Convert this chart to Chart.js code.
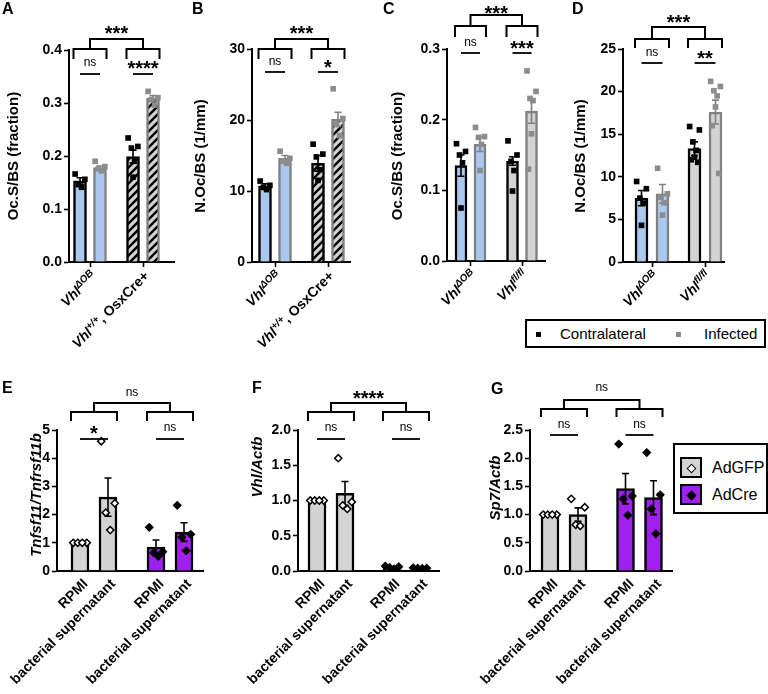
<!DOCTYPE html>
<html>
<head>
<meta charset="utf-8">
<script src="https://cdn.jsdelivr.net/npm/chart.js@4.4.1/dist/chart.umd.min.js"></script>
<style>
  html, body { margin: 0; padding: 0; background: #fff; }
  body { width: 768px; height: 694px; position: relative; overflow: hidden; font-family: 'Liberation Sans', Arial, sans-serif; }
  canvas { position: absolute; }
  .legend { position: absolute; border: 2px solid #000; background: #fff; box-sizing: border-box; }
  .legend span { position: absolute; white-space: nowrap; color: #000; }
  .xlab { position: absolute; white-space: nowrap; font-weight: bold; font-size: 14px; line-height: 16px; color: #000;
          transform-origin: 100% 50%; transform: rotate(-45deg); }
  .xlab i { font-style: italic; }
  .xlab .sup { font-style: italic; font-size: 10px; position: relative; top: -5px; }
</style>
</head>
<body>
<canvas id="chartA"></canvas>
<canvas id="chartB"></canvas>
<canvas id="chartC"></canvas>
<canvas id="chartD"></canvas>
<canvas id="chartE"></canvas>
<canvas id="chartF"></canvas>
<canvas id="chartG"></canvas>
<div id="legendTop" class="legend" style="left:525px;top:319px;width:241px;height:29px"></div>
<div id="legendBottom" class="legend" style="left:673px;top:443px;width:95px;height:71px"></div>
<script>
const FONT = "'Liberation Sans', Arial, sans-serif";
const BLUE = '#a9c7ef';
const GREY = '#d3d3d3';
const PURPLE = '#a020f0';
const INF_EDGE = '#808080';
const INF_PT = '#8c8c8c';

// --- Labels ---
const topSeriesNames = ['Contralateral', 'Infected'];
const bottomSeriesNames = ['AdGFP', 'AdCre'];
const abGroupLabels = ['Vhl^{ΔOB}', 'Vhl^{+/+}, OsxCre+'];
const cdGroupLabels = ['Vhl^{ΔOB}', 'Vhl^{fl/fl}'];
const treatmentLabels = ['RPMI', 'bacterial supernatant'];

// --- A: Oc.S/BS (fraction) ---
const aContraMean = [0.153, 0.199];
const aContraSem = [0.006, 0.012];
const aInfectedMean = [0.178, 0.309];
const aInfectedSem = [0.003, 0.005];
const aContraPts = [[0.166, 0.156, 0.146, 0.141], [0.234, 0.218, 0.215, 0.19, 0.16]];
const aInfectedPts = [[0.19, 0.18, 0.176, 0.172], [0.322, 0.31, 0.306, 0.296]];
const aSig = ['***', 'ns', '****'];

// --- B: N.Oc/BS (1/mm) ---
const bContraMean = [10.7, 13.9];
const bContraSem = [0.3, 1.1];
const bInfectedMean = [14.6, 20.1];
const bInfectedSem = [0.4, 1.0];
const bContraPts = [[11.4, 10.8, 10.5, 10.2], [16.6, 15.2, 14.8, 13.0, 11.5]];
const bInfectedPts = [[15.6, 14.6, 14.2, 13.9], [24.4, 20.2, 19.4, 17.8]];
const bSig = ['***', 'ns', '*'];

// --- C: Oc.S/BS (fraction) ---
const cContraMean = [0.135, 0.1415];
const cContraSem = [0.015, 0.006];
const cInfectedMean = [0.165, 0.212];
const cInfectedSem = [0.01, 0.017];
const cContraPts = [[0.166, 0.155, 0.15, 0.139, 0.075], [0.17, 0.15, 0.141, 0.128, 0.099]];
const cInfectedPts = [[0.189, 0.176, 0.175, 0.165, 0.128], [0.269, 0.24, 0.23, 0.227, 0.18, 0.13]];
const cSig = ['***', 'ns', '***'];

// --- D: N.Oc/BS (1/mm) ---
const dContraMean = [7.5, 13.3];
const dContraSem = [0.9, 0.8];
const dInfectedMean = [8.0, 17.6];
const dInfectedSem = [1.1, 1.4];
const dContraPts = [[9.45, 8.6, 7.5, 6.9, 4.3], [15.9, 15.5, 14.1, 13.1, 12.3, 12.0, 11.7]];
const dInfectedPts = [[11.0, 8.0, 7.6, 6.95, 5.5], [21.2, 20.6, 20.1, 19.5, 18.2, 16.0, 10.4]];
const dSig = ['***', 'ns', '**'];

// --- E: Tnfsf11/Tnfrsf11b ---
const eRpmiMean = [1.0, 0.85];
const eRpmiSem = [0, 0.25];
const eBactMean = [2.62, 1.38];
const eBactSem = [0.68, 0.33];
const eRpmiPts = [[1, 1, 1, 1], [1.55, 0.68, 0.65, 0.52]];
const eBactPts = [[4.6, 2.4, 2.07, 1.45], [2.33, 1.3, 1.2, 0.72]];
const eSig = ['ns', '*', 'ns'];

// --- F: Vhl/Actb ---
const fRpmiMean = [1.0, 0.05];
const fRpmiSem = [0, 0.01];
const fBactMean = [1.1, 0.04];
const fBactSem = [0.17, 0.005];
const fRpmiPts = [[1, 1, 1, 1], [0.07, 0.06, 0.05, 0.03]];
const fBactPts = [[1.6, 0.98, 0.93, 0.88], [0.045, 0.04, 0.04, 0.035]];
const fSig = ['****', 'ns', 'ns'];

// --- G: Sp7/Actb ---
const gRpmiMean = [1.0, 1.46];
const gRpmiSem = [0, 0.27];
const gBactMean = [1.0, 1.3];
const gBactSem = [0.12, 0.3];
const gRpmiPts = [[1, 1, 1, 1], [2.25, 1.33, 1.28, 0.99]];
const gBactPts = [[1.28, 1.13, 0.82, 0.8], [2.1, 1.35, 1.1, 0.66]];
const gSig = ['ns', 'ns', 'ns'];

const JITTER = [-0.75, 0.75, -0.25, 0.25, 0, -0.5, 0.5];

Chart.defaults.font.family = FONT;

// --- Panel layout (page pixels) ---
const panels = [
  { id: 'A', kind: 'top', hatch: true, left: 0, top: 0, w: 190, h: 360, axisX: 69, axisEnd: 174, yZero: 262, yTop: 50,
    yMax: 0.4, yStep: 0.1, dec: 1, g0: 90, g1: 143, barOff: 10, barW: 13,
    means: [aContraMean, aInfectedMean], sems: [aContraSem, aInfectedSem], pts: [aContraPts, aInfectedPts],
    xLabels: abGroupLabels, yTitle: 'Oc.S/BS (fraction)', titleX: 14, titleY: 156, letterX: 2, letterY: 10,
    sig: aSig, brk: [28, 39, 49, 59, 63, 74] },
  { id: 'B', kind: 'top', hatch: true, left: 188, top: 0, w: 190, h: 360, axisX: 252, axisEnd: 350, yZero: 262, yTop: 49,
    yMax: 30, yStep: 10, dec: 0, g0: 275, g1: 328, barOff: 10, barW: 13,
    means: [bContraMean, bInfectedMean], sems: [bContraSem, bInfectedSem], pts: [bContraPts, bInfectedPts],
    xLabels: abGroupLabels, yTitle: 'N.Oc/BS (1/mm)', titleX: 201, titleY: 156, letterX: 192, letterY: 10,
    sig: bSig, brk: [28, 39, 49, 59, 62, 72] },
  { id: 'C', kind: 'top', hatch: false, left: 378, top: 0, w: 192, h: 360, axisX: 447, axisEnd: 545, yZero: 261, yTop: 49,
    yMax: 0.3, yStep: 0.1, dec: 1, g0: 470.5, g1: 522, barOff: 9.5, barW: 12,
    means: [cContraMean, cInfectedMean], sems: [cContraSem, cInfectedSem], pts: [cContraPts, cInfectedPts],
    xLabels: cdGroupLabels, yTitle: 'Oc.S/BS (fraction)', titleX: 398, titleY: 156, letterX: 383, letterY: 10,
    sig: cSig, brk: [8, 15, 26, 37, 43, 53] },
  { id: 'D', kind: 'top', hatch: false, left: 568, top: 0, w: 200, h: 360, axisX: 623, axisEnd: 724, yZero: 262, yTop: 49,
    yMax: 25, yStep: 5, dec: 0, g0: 652, g1: 705, barOff: 10.5, barW: 13,
    means: [dContraMean, dInfectedMean], sems: [dContraSem, dInfectedSem], pts: [dContraPts, dInfectedPts],
    xLabels: cdGroupLabels, yTitle: 'N.Oc/BS (1/mm)', titleX: 581, titleY: 156, letterX: 572, letterY: 10,
    sig: dSig, brk: [17, 27, 39, 48, 53, 63] },
  { id: 'E', kind: 'bottom', left: 0, top: 360, w: 250, h: 334, axisX: 57, axisEnd: 203, yZero: 571, yTop: 430,
    yMax: 5, yStep: 1, dec: 0, g0: 94, g1: 170, barOff: 14, barW: 18,
    means: [eRpmiMean, eBactMean], sems: [eRpmiSem, eBactSem], pts: [eRpmiPts, eBactPts],
    xLabels: treatmentLabels, yTitle: 'Tnfsf11/Tnfrsf11b', titleX: 37, titleY: 495, letterX: 2, letterY: 389,
    sig: eSig, brk: [393, 403, 412, 421, 428, 439] },
  { id: 'F', kind: 'bottom', left: 228, top: 360, w: 262, h: 334, axisX: 298, axisEnd: 439, yZero: 571, yTop: 430,
    yMax: 2, yStep: 0.5, dec: 1, g0: 331, g1: 406, barOff: 14, barW: 18,
    means: [fRpmiMean, fBactMean], sems: [fRpmiSem, fBactSem], pts: [fRpmiPts, fBactPts],
    xLabels: treatmentLabels, yTitle: 'Vhl/Actb', titleX: 258, titleY: 467, letterX: 252, letterY: 389,
    sig: fSig, brk: [393, 403, 412, 421, 428, 439] },
  { id: 'G', kind: 'bottom', left: 460, top: 360, w: 308, h: 334, axisX: 530, axisEnd: 672, yZero: 571, yTop: 430,
    yMax: 2.5, yStep: 0.5, dec: 1, g0: 564, g1: 639.5, barOff: 14, barW: 18,
    means: [gRpmiMean, gBactMean], sems: [gRpmiSem, gBactSem], pts: [gRpmiPts, gBactPts],
    xLabels: treatmentLabels, yTitle: 'Sp7/Actb', titleX: 496, titleY: 488, letterX: 491, letterY: 390,
    sig: gSig, brk: [388, 400, 409, 417, 425, 435] }
];

function makeHatch(ctx) {
  const tile = document.createElement('canvas');
  tile.width = 8; tile.height = 8;
  const t = tile.getContext('2d');
  t.fillStyle = GREY;
  t.fillRect(0, 0, 8, 8);
  t.strokeStyle = '#000';
  t.lineWidth = 2.4;
  t.beginPath();
  t.moveTo(-1, 9); t.lineTo(9, -1);
  t.moveTo(-1, 1); t.lineTo(1, -1);
  t.moveTo(7, 9); t.lineTo(9, 7);
  t.stroke();
  return ctx.createPattern(tile, 'repeat');
}

// 'Vhl^{ΔOB}' -> italic base, small raised part, upright rest
function labelHtml(str) {
  const m = str.match(/^([^^]*)\^\{([^}]*)\}(.*)$/);
  if (!m) return str;
  return `<i>${m[1]}</i><span class="sup">${m[2]}</span>${m[3]}`;
}

function drawRotated(ctx, text, font, x, y, angle) {
  ctx.save();
  ctx.translate(x, y);
  ctx.rotate(angle);
  ctx.fillStyle = '#000';
  ctx.font = font;
  ctx.textBaseline = 'middle';
  ctx.textAlign = 'center';
  ctx.fillText(text, 0, 0);
  ctx.restore();
}

function drawSig(ctx, text, x, y) {
  ctx.save();
  ctx.fillStyle = '#000';
  ctx.textAlign = 'center';
  if (text.includes('*')) {
    ctx.font = `bold 20px ${FONT}`;
    ctx.textBaseline = 'alphabetic';
    ctx.fillText(text, x, y + 11.5);
  } else {
    ctx.font = `12px ${FONT}`;
    ctx.textBaseline = 'middle';
    ctx.fillText(text, x, y);
  }
  ctx.restore();
}

function decorations(p) {
  const isTop = p.kind === 'top';
  return {
    id: 'deco' + p.id,
    afterDatasetDraw(chart, args) {
      if (args.meta.type !== 'bar') return;
      const ds = chart.data.datasets[args.index];
      const yS = chart.scales.y;
      const ctx = chart.ctx;
      ctx.save();
      ctx.strokeStyle = ds.errColor;
      ctx.lineWidth = 1.6;
      args.meta.data.forEach((el, g) => {
        const sem = ds.sems[g];
        if (!sem) return;
        const m = ds.data[g].y;
        const hi = yS.getPixelForValue(m + sem);
        const lo = yS.getPixelForValue(m - sem);
        const cap = 3.5;
        ctx.beginPath();
        ctx.moveTo(el.x, lo); ctx.lineTo(el.x, hi);
        ctx.moveTo(el.x - cap, hi); ctx.lineTo(el.x + cap, hi);
        ctx.moveTo(el.x - cap, lo); ctx.lineTo(el.x + cap, lo);
        ctx.stroke();
      });
      ctx.restore();
    },
    afterDraw(chart) {
      const ctx = chart.ctx;
      // panel letter
      ctx.save();
      ctx.fillStyle = '#000';
      ctx.font = `bold 16px ${FONT}`;
      ctx.textBaseline = 'middle';
      ctx.fillText(p.id, p.letterX - p.left, p.letterY - p.top);
      ctx.restore();
      // y title
      const tFont = isTop ? `bold 15px ${FONT}` : `italic bold 15px ${FONT}`;
      drawRotated(ctx, p.yTitle, tFont, p.titleX - p.left, p.titleY - p.top, -Math.PI / 2);
      // significance brackets
      const b0 = chart.getDatasetMeta(0).data;
      const b1 = chart.getDatasetMeta(1).data;
      const [tY, mY, sY, lY, iY, nY] = p.brk.map(v => v - p.top);
      const spans = [0, 1].map(g => ({
        l: b0[g].x - b0[g].width / 2, r: b1[g].x + b1[g].width / 2, a: b0[g].x, b: b1[g].x
      }));
      const c0 = (spans[0].l + spans[0].r) / 2;
      const c1 = (spans[1].l + spans[1].r) / 2;
      ctx.save();
      ctx.strokeStyle = '#000';
      ctx.lineWidth = 2;
      ctx.beginPath();
      ctx.moveTo(c0, sY); ctx.lineTo(c0, mY); ctx.lineTo(c1, mY); ctx.lineTo(c1, sY);
      ctx.stroke();
      spans.forEach(sp => {
        ctx.beginPath();
        ctx.moveTo(sp.l, lY); ctx.lineTo(sp.l, sY); ctx.lineTo(sp.r, sY); ctx.lineTo(sp.r, lY);
        ctx.stroke();
      });
      ctx.lineWidth = 1.8;
      spans.forEach(sp => {
        ctx.beginPath();
        ctx.moveTo(sp.a, nY); ctx.lineTo(sp.b, nY);
        ctx.stroke();
      });
      ctx.restore();
      drawSig(ctx, p.sig[0], (c0 + c1) / 2, tY);
      spans.forEach((sp, g) => drawSig(ctx, p.sig[g + 1], (sp.a + sp.b) / 2, iY));
    }
  };
}

// rotated category labels as page text, anchored at their right end
function addXLabel(html, pageX, pageY) {
  const d = document.createElement('div');
  d.className = 'xlab';
  d.innerHTML = html;
  d.style.right = (768 - pageX) + 'px';
  d.style.top = (pageY - 8) + 'px';
  document.body.appendChild(d);
}

function makePanel(p) {
  const canvas = document.getElementById('chart' + p.id);
  canvas.width = p.w;
  canvas.height = p.h;
  canvas.style.left = p.left + 'px';
  canvas.style.top = p.top + 'px';
  const ctx = canvas.getContext('2d');
  const isTop = p.kind === 'top';
  const s = p.g1 - p.g0;
  const off = p.barOff / s;
  const jit = (p.barW / 2) / s;
  const hatch = makeHatch(ctx);
  const datasets = [];

  [0, 1].forEach(si => {
    const sign = si === 0 ? -1 : 1;
    const fills = [0, 1].map(g => {
      if (isTop) return g === 0 ? BLUE : (p.hatch ? hatch : GREY);
      return g === 0 ? GREY : PURPLE;
    });
    const edge = isTop && si === 1 ? INF_EDGE : '#000';
    datasets.push({
      type: 'bar',
      data: p.means[si].map((m, g) => ({ x: g + sign * off, y: m })),
      backgroundColor: fills,
      borderColor: edge,
      borderWidth: 2.5,
      barThickness: p.barW,
      grouped: false,
      order: 2,
      sems: p.sems[si],
      errColor: edge
    });
  });

  [0, 1].forEach(si => {
    const sign = si === 0 ? -1 : 1;
    p.pts[si].forEach((vals, g) => {
      let style, fill, stroke, bw;
      if (isTop) {
        style = 'rect'; fill = si === 0 ? '#000' : INF_PT; stroke = fill; bw = 0;
      } else {
        style = 'rectRot'; fill = g === 0 ? '#fff' : '#000'; stroke = '#000'; bw = 1.5;
      }
      datasets.push({
        type: 'scatter',
        data: vals.map((v, k) => ({ x: g + sign * off + JITTER[k % JITTER.length] * jit, y: v })),
        pointStyle: style,
        pointRadius: isTop ? 4 : 3.6,
        pointBackgroundColor: fill,
        pointBorderColor: stroke,
        pointBorderWidth: bw,
        order: 0
      });
    });
  });

  const chart = new Chart(canvas, {
    type: 'bar',
    data: { datasets },
    options: {
      responsive: false,
      animation: false,
      events: [],
      layout: { padding: { left: 0, top: p.yTop - p.top, right: p.left + p.w - p.axisEnd, bottom: 0 } },
      plugins: { legend: { display: false }, tooltip: { enabled: false } },
      scales: {
        x: {
          type: 'linear',
          min: (p.axisX - p.g0) / s,
          max: 1 + (p.axisEnd - p.g1) / s,
          offset: false,
          grid: { display: true, offset: false, drawOnChartArea: false, drawTicks: isTop, tickLength: 5, tickColor: '#000', tickWidth: 1.6 },
          border: { display: true, color: '#000', width: 2 },
          ticks: { display: false },
          afterBuildTicks: ax => { ax.ticks = [{ value: 0 }, { value: 1 }]; },
          afterFit: ax => { ax.height = p.top + p.h - p.yZero; }
        },
        y: {
          min: 0,
          max: p.yMax,
          grid: { display: true, drawOnChartArea: false, drawTicks: true, tickLength: 5, tickColor: '#000', tickWidth: 1.6 },
          border: { display: true, color: '#000', width: 2 },
          ticks: {
            stepSize: p.yStep,
            color: '#000',
            padding: 2,
            font: { family: FONT, size: 14, weight: 'bold' },
            callback: v => Number(v).toFixed(p.dec)
          },
          afterFit: ax => { ax.width = p.axisX - p.left; }
        }
      }
    },
    plugins: [decorations(p)]
  });

  // x category labels
  const b0 = chart.getDatasetMeta(0).data;
  const b1 = chart.getDatasetMeta(1).data;
  if (isTop) {
    p.xLabels.forEach((lab, g) => {
      const x = p.left + chart.scales.x.getPixelForValue(g) + 4;
      addXLabel(labelHtml(lab), x, p.yZero + 11);
    });
  } else {
    [0, 1].forEach(g => {
      [b0[g], b1[g]].forEach((el, si) => {
        addXLabel(p.xLabels[si], p.left + el.x + 5, p.yZero + 10);
      });
    });
  }
}

panels.forEach(makePanel);

// --- Legends ---
function buildLegends() {
  const top = document.getElementById('legendTop');
  const topMarkers = ['#000', INF_PT];
  const topPos = [[9, 33], [149, 177]];
  topSeriesNames.forEach((name, i) => {
    const sq = document.createElement('span');
    sq.style.cssText = `left:${topPos[i][0]}px;top:11px;width:5px;height:5px;background:${topMarkers[i]}`;
    top.appendChild(sq);
    const t = document.createElement('span');
    t.textContent = name;
    t.style.cssText = `left:${topPos[i][1]}px;top:4px;font-size:15px;line-height:17px`;
    top.appendChild(t);
  });

  const bottom = document.getElementById('legendBottom');
  const fills = [GREY, PURPLE];
  const marks = ['#fff', '#000'];
  bottomSeriesNames.forEach((name, i) => {
    const y = 12 + i * 27;
    const sw = document.createElement('span');
    sw.style.cssText = `left:5px;top:${y}px;width:22px;height:21px;background:${fills[i]};border:2px solid #000;box-sizing:border-box`;
    const d = document.createElement('span');
    d.style.cssText = `left:6px;top:5.5px;width:5px;height:5px;background:${marks[i]};border:1.5px solid #000;transform:rotate(45deg)`;
    sw.appendChild(d);
    bottom.appendChild(sw);
    const t = document.createElement('span');
    t.textContent = name;
    t.style.cssText = `left:37px;top:${y + 1}px;font-size:16px;line-height:19px`;
    bottom.appendChild(t);
  });
}
buildLegends();
</script>
</body>
</html>
